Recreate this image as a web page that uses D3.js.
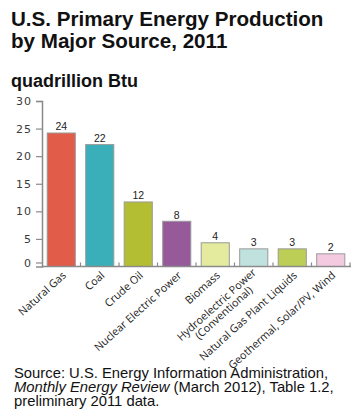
<!DOCTYPE html>
<html>
<head>
<meta charset="utf-8">
<script src="https://cdn.jsdelivr.net/npm/d3@7"></script>
<style>
  html, body { margin: 0; padding: 0; background: #fff; }
  svg { display: block; }
</style>
</head>
<body>
<svg id="chart" width="360" height="420"></svg>
<script>
const categories = ["Natural Gas", "Coal", "Crude Oil", "Nuclear Electric Power", "Biomass",
  "Hydroelectric Power\n(Conventional)", "Natural Gas Plant Liquids", "Geothermal, Solar/PV, Wind"];
const values = [24.2, 22.1, 11.7, 8.2, 4.3, 3.2, 3.2, 2.3];
const colors = ["#E25C4A", "#3AAFB9", "#B4BE33", "#96599A", "#E4EB9E", "#C0E2DF", "#BCCE55", "#F3CAE0"];
const yTicks = [0, 5, 10, 15, 20, 25, 30];
const titleLines = ["U.S. Primary Energy Production", "by Major Source, 2011"];
const unitLabel = "quadrillion Btu";

const svg = d3.select("#chart");

// Title
svg.append("g").selectAll("text").data(titleLines).join("text")
  .attr("x", 11).attr("y", (d, i) => 26 + i * 21.5)
  .attr("font-family", "Liberation Sans, Arial, sans-serif")
  .attr("font-weight", "bold").attr("font-size", 20.6).attr("fill", "#111")
  .text(d => d);

svg.append("text").attr("x", 11).attr("y", 87)
  .attr("font-family", "Liberation Sans, Arial, sans-serif")
  .attr("font-weight", "bold").attr("font-size", 18).attr("fill", "#111")
  .text(unitLabel);

const x = d3.scaleBand().domain(categories).range([42, 350])
  .paddingInner(0.27).paddingOuter(0.135);
const y = d3.scaleLinear().domain([0, 30]).range([266.5, 101]);
const axisColor = "#8a8a8a";

// Y axis
const yAxis = svg.append("g").attr("transform", "translate(42,0)")
  .call(d3.axisLeft(y).tickValues(yTicks).tickSize(6).tickPadding(4));
yAxis.select(".domain").attr("stroke", axisColor).attr("stroke-width", 1.5);
yAxis.selectAll(".tick line").attr("stroke", axisColor).attr("stroke-width", 1.2);
yAxis.selectAll(".tick text")
  .attr("font-family", "DejaVu Sans, sans-serif").attr("font-size", 11)
  .attr("letter-spacing", 1).attr("fill", "#3a3a3a");
// the zero tick sits slightly above the baseline in the original
yAxis.selectAll(".tick").filter(d => d === 0)
  .attr("transform", `translate(0,${y(0) - 3.5})`);

// Bars
svg.append("g").selectAll("rect").data(values).join("rect")
  .attr("x", (d, i) => x(categories[i]))
  .attr("y", d => y(d))
  .attr("width", x.bandwidth())
  .attr("height", d => y(0) - y(d))
  .attr("fill", (d, i) => colors[i])
  .attr("stroke", "#9a9a9a").attr("stroke-width", 1);

// Value labels
svg.append("g").selectAll("text").data(values).join("text")
  .attr("x", (d, i) => x(categories[i]) + x.bandwidth() / 2)
  .attr("y", d => y(d) - 2.5)
  .attr("text-anchor", "middle")
  .attr("font-family", "Liberation Sans, Arial, sans-serif")
  .attr("font-size", 10.5).attr("fill", "#222")
  .text(d => d3.format(".0f")(d));

// X axis baseline with upward ticks at band boundaries
const bounds = categories.map((c, i) => x(c) - x.step() * x.paddingInner() / 2).slice(1)
  .concat([x.range()[1]]);
const xg = svg.append("g");
xg.append("line").attr("x1", 42).attr("x2", x.range()[1] + 1)
  .attr("y1", y(0)).attr("y2", y(0))
  .attr("stroke", axisColor).attr("stroke-width", 1.5);
xg.selectAll("line.t").data(bounds).join("line").attr("class", "t")
  .attr("x1", d => d).attr("x2", d => d)
  .attr("y1", y(0)).attr("y2", y(0) - 4)
  .attr("stroke", axisColor).attr("stroke-width", 1.2);

// Category labels, rotated
const lab = svg.append("g").selectAll("text").data(categories).join("text")
  .attr("transform", d => `translate(${x(d) + x.bandwidth() / 2 + 3},${y(0) + 7}) rotate(-42)`)
  .attr("text-anchor", "end")
  .attr("font-family", "Open Sans, sans-serif")
  .attr("font-size", 10.8).attr("fill", "#222");
lab.each(function(d) {
  const lines = d.split("\n");
  const t = d3.select(this);
  const spans = lines.map((l, i) => t.append("tspan").attr("x", 0)
      .attr("dy", i === 0 ? (lines.length > 1 ? "0em" : "0.35em") : "1.0em")
      .text(l));
  if (spans.length > 1) {
    const w0 = spans[0].node().getComputedTextLength();
    spans.slice(1).forEach(s => {
      const w = s.node().getComputedTextLength();
      s.attr("x", -(w0 - w) / 2);
    });
  }
});

// Source note
const src = svg.append("text").attr("font-family", "Liberation Sans, Arial, sans-serif")
  .attr("font-size", 14.8).attr("fill", "#111");
src.append("tspan").attr("x", 14).attr("y", 378).text("Source: U.S. Energy Information Administration,");
src.append("tspan").attr("x", 14).attr("y", 392).attr("font-style", "italic").text("Monthly Energy Review");
src.append("tspan").text(" (March 2012), Table 1.2,");
src.append("tspan").attr("x", 14).attr("y", 406).text("preliminary 2011 data.");
</script>
</body>
</html>
